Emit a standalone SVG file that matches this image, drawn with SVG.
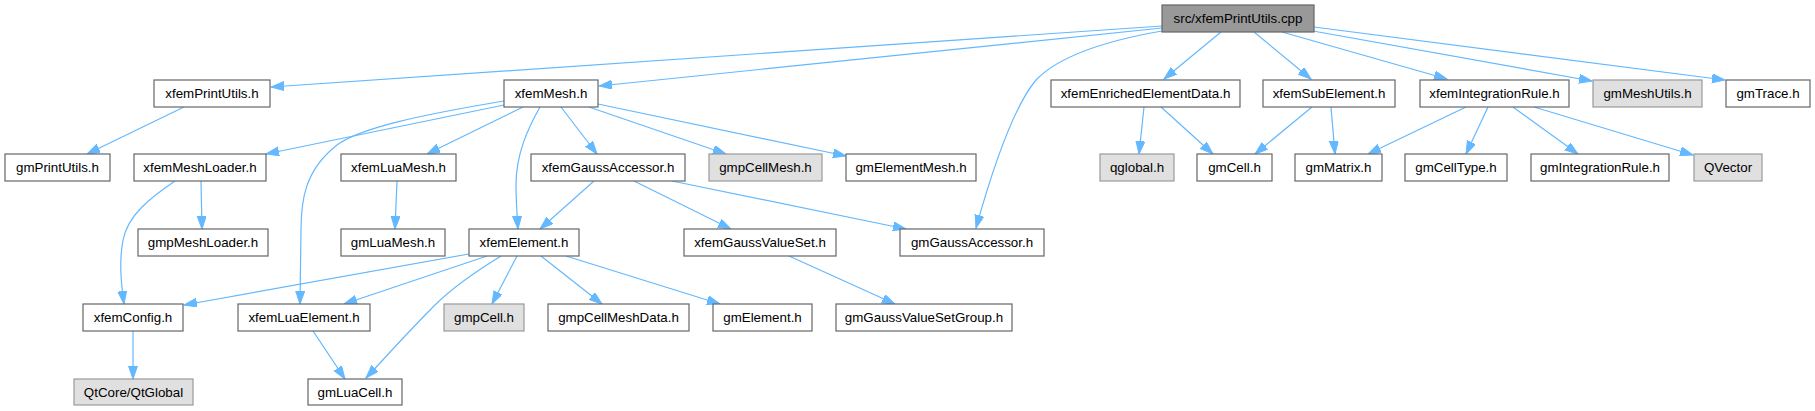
<svg xmlns="http://www.w3.org/2000/svg" width="1815" height="411" viewBox="0 0 1815 411">
<defs>
<style>
.n rect{fill:#ffffff;stroke:#666666;stroke-width:1.2}
.g rect{fill:#e0e0e0;stroke:#999999;stroke-width:1.2}
.r rect{fill:#999999;stroke:#666666;stroke-width:1.2}
text{font-family:"Liberation Sans",Arial,sans-serif;font-size:13.33px;fill:#000000;text-anchor:middle}
.e path{fill:none;stroke:#63b8ff;stroke-width:1.2;marker-end:url(#ah)}
</style>
<marker id="ah" markerUnits="userSpaceOnUse" markerWidth="14" markerHeight="10" refX="13" refY="4.5" orient="auto">
<path d="M0,0 L13,4.5 L0,9 z" fill="#63b8ff" stroke="#63b8ff" stroke-width="1"/>
</marker>
</defs>
<rect width="1815" height="411" fill="#ffffff"/>
<g id="edges" class="e">
<path d="M1162,26 L271,87"/>
<path d="M1162,28 L599,86"/>
<path d="M1162,31 C1110,40 1060,55 1036,80 C1015,105 995,160 976,228"/>
<path d="M1221,32 L1164,79"/>
<path d="M1254,32 L1311,79"/>
<path d="M1282,32 L1447,79"/>
<path d="M1313,31 L1592,81"/>
<path d="M1314,27 L1725,80"/>
<path d="M184,107 L87,154"/>
<path d="M504,105 L266,154"/>
<path d="M504,101 C420,115 360,128 337,145 C305,170 301,200 301,230 L300,304"/>
<path d="M523,107 L427,154"/>
<path d="M540,107 C527,130 516,155 516,185 C516,200 517,215 518,229"/>
<path d="M561,107 L597,154"/>
<path d="M586,106 L726,154"/>
<path d="M598,104 L846,156"/>
<path d="M175,181 C150,198 128,215 123,240 C119,262 121,282 124,304"/>
<path d="M201,181 L202,229"/>
<path d="M397,181 L395,229"/>
<path d="M594,181 L540,229"/>
<path d="M634,181 L731,229"/>
<path d="M672,181 L906,229"/>
<path d="M469,254 L184,305"/>
<path d="M487,256 L344,304"/>
<path d="M501,256 C475,272 450,290 435,305 C405,335 385,358 366,378"/>
<path d="M517,256 L492,304"/>
<path d="M541,256 L602,304"/>
<path d="M566,256 L720,304"/>
<path d="M789,256 L895,304"/>
<path d="M133,331 L133,379"/>
<path d="M313,331 L345,379"/>
<path d="M1144,107 L1139,154"/>
<path d="M1161,107 L1213,154"/>
<path d="M1312,107 L1255,154"/>
<path d="M1331,107 L1335,154"/>
<path d="M1466,107 L1368,154"/>
<path d="M1488,107 L1466,154"/>
<path d="M1513,107 L1578,154"/>
<path d="M1534,107 L1693,155"/>
</g>
<g id="node-root" class="r"><rect x="1162" y="5" width="152" height="27"/><text x="1238" y="23.3">src/xfemPrintUtils.cpp</text></g>
<g id="node-xfemPrintUtils" class="n"><rect x="154" y="80" width="116" height="27"/><text x="212" y="98.3">xfemPrintUtils.h</text></g>
<g id="node-xfemMesh" class="n"><rect x="504" y="80" width="94" height="27"/><text x="551" y="98.3">xfemMesh.h</text></g>
<g id="node-xfemEnrichedElementData" class="n"><rect x="1051" y="80" width="189" height="27"/><text x="1145.5" y="98.3">xfemEnrichedElementData.h</text></g>
<g id="node-xfemSubElement" class="n"><rect x="1263" y="80" width="132" height="27"/><text x="1329" y="98.3">xfemSubElement.h</text></g>
<g id="node-xfemIntegrationRule" class="n"><rect x="1420" y="80" width="149" height="27"/><text x="1494.5" y="98.3">xfemIntegrationRule.h</text></g>
<g id="node-gmMeshUtils" class="g"><rect x="1593" y="80" width="109" height="27"/><text x="1647.5" y="98.3">gmMeshUtils.h</text></g>
<g id="node-gmTrace" class="n"><rect x="1726" y="80" width="84" height="27"/><text x="1768" y="98.3">gmTrace.h</text></g>
<g id="node-gmPrintUtils" class="n"><rect x="5" y="154" width="105" height="27"/><text x="57.5" y="172.3">gmPrintUtils.h</text></g>
<g id="node-xfemMeshLoader" class="n"><rect x="134" y="154" width="132" height="27"/><text x="200" y="172.3">xfemMeshLoader.h</text></g>
<g id="node-xfemLuaMesh" class="n"><rect x="341" y="154" width="115" height="27"/><text x="398.5" y="172.3">xfemLuaMesh.h</text></g>
<g id="node-xfemGaussAccessor" class="n"><rect x="531" y="154" width="154" height="27"/><text x="608" y="172.3">xfemGaussAccessor.h</text></g>
<g id="node-gmpCellMesh" class="g"><rect x="709" y="154" width="113" height="27"/><text x="765.5" y="172.3">gmpCellMesh.h</text></g>
<g id="node-gmElementMesh" class="n"><rect x="846" y="154" width="130" height="27"/><text x="911" y="172.3">gmElementMesh.h</text></g>
<g id="node-qglobal" class="g"><rect x="1100" y="154" width="74" height="27"/><text x="1137" y="172.3">qglobal.h</text></g>
<g id="node-gmCell" class="n"><rect x="1197" y="154" width="75" height="27"/><text x="1234.5" y="172.3">gmCell.h</text></g>
<g id="node-gmMatrix" class="n"><rect x="1295" y="154" width="87" height="27"/><text x="1338.5" y="172.3">gmMatrix.h</text></g>
<g id="node-gmCellType" class="n"><rect x="1405" y="154" width="102" height="27"/><text x="1456" y="172.3">gmCellType.h</text></g>
<g id="node-gmIntegrationRule" class="n"><rect x="1531" y="154" width="138" height="27"/><text x="1600" y="172.3">gmIntegrationRule.h</text></g>
<g id="node-QVector" class="g"><rect x="1694" y="154" width="68" height="27"/><text x="1728" y="172.3">QVector</text></g>
<g id="node-gmpMeshLoader" class="n"><rect x="138" y="229" width="130" height="27"/><text x="203" y="247.3">gmpMeshLoader.h</text></g>
<g id="node-gmLuaMesh" class="n"><rect x="341" y="229" width="104" height="27"/><text x="393" y="247.3">gmLuaMesh.h</text></g>
<g id="node-xfemElement" class="n"><rect x="469" y="229" width="110" height="27"/><text x="524" y="247.3">xfemElement.h</text></g>
<g id="node-xfemGaussValueSet" class="n"><rect x="684" y="229" width="152" height="27"/><text x="760" y="247.3">xfemGaussValueSet.h</text></g>
<g id="node-gmGaussAccessor" class="n"><rect x="900" y="229" width="144" height="27"/><text x="972" y="247.3">gmGaussAccessor.h</text></g>
<g id="node-xfemConfig" class="n"><rect x="83" y="304" width="100" height="27"/><text x="133" y="322.3">xfemConfig.h</text></g>
<g id="node-xfemLuaElement" class="n"><rect x="238" y="304" width="132" height="27"/><text x="304" y="322.3">xfemLuaElement.h</text></g>
<g id="node-gmpCell" class="g"><rect x="444" y="304" width="80" height="27"/><text x="484" y="322.3">gmpCell.h</text></g>
<g id="node-gmpCellMeshData" class="n"><rect x="548" y="304" width="141" height="27"/><text x="618.5" y="322.3">gmpCellMeshData.h</text></g>
<g id="node-gmElement" class="n"><rect x="713" y="304" width="99" height="27"/><text x="762.5" y="322.3">gmElement.h</text></g>
<g id="node-gmGaussValueSetGroup" class="n"><rect x="836" y="304" width="176" height="27"/><text x="924" y="322.3">gmGaussValueSetGroup.h</text></g>
<g id="node-QtCoreQtGlobal" class="g"><rect x="74" y="379" width="119" height="26"/><text x="133.5" y="396.8">QtCore/QtGlobal</text></g>
<g id="node-gmLuaCell" class="n"><rect x="308" y="379" width="94" height="26"/><text x="355" y="396.8">gmLuaCell.h</text></g>
</svg>
